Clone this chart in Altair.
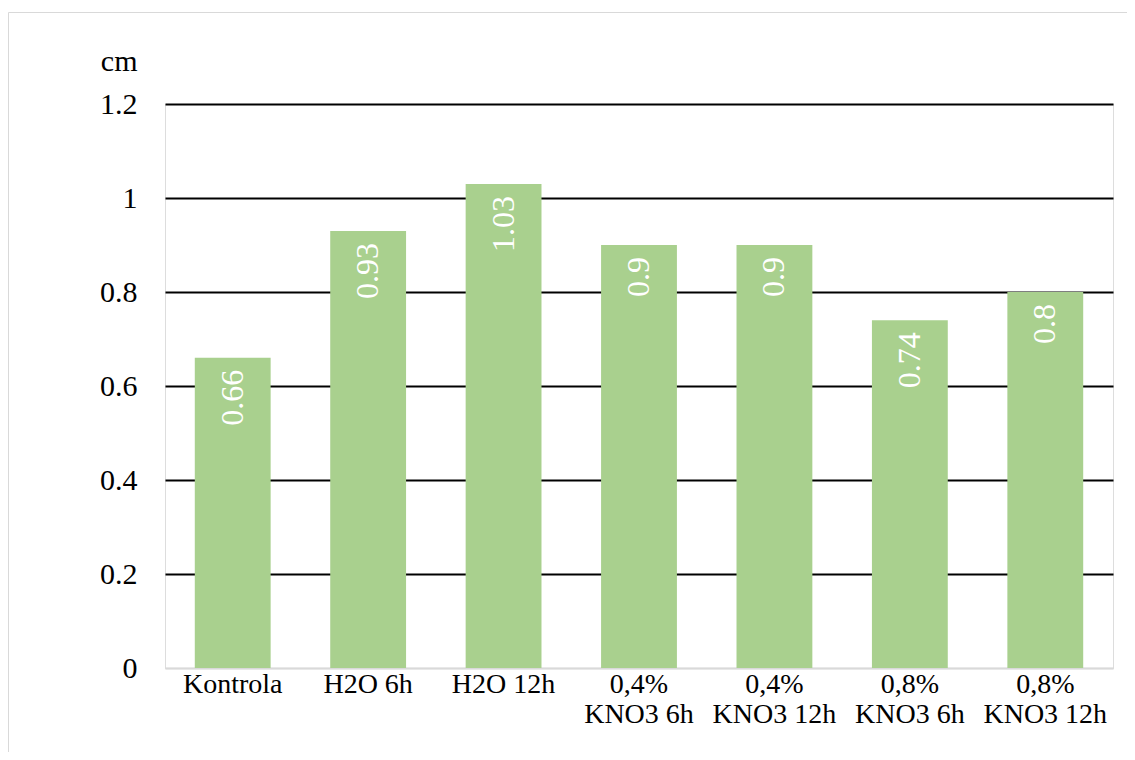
import altair as alt
import pandas as pd

categories = ["Kontrola", "H2O 6h", "H2O 12h", "0,4%\nKNO3 6h", "0,4%\nKNO3 12h",
              "0,8%\nKNO3 6h", "0,8%\nKNO3 12h"]
values = [0.66, 0.93, 1.03, 0.9, 0.9, 0.74, 0.8]
labels = ["0.66", "0.93", "1.03", "0.9", "0.9", "0.74", "0.8"]
y_ticks = [0, 0.2, 0.4, 0.6, 0.8, 1.0, 1.2]

df = pd.DataFrame({"cat": categories, "val": values, "lab": labels})

FONT = "Times New Roman, Liberation Serif, serif"

x_enc = alt.X("cat:N", sort=categories,
              scale=alt.Scale(paddingInner=0.44, paddingOuter=0.22),
              axis=alt.Axis(title=None, labelAngle=0, labelFontSize=28, labelFont=FONT,
                            labelColor="black", labelLineHeight=30, labelPadding=2,
                            ticks=False, domain=True, domainColor="#d9d9d9", domainWidth=1.5,
                            labelExpr="split(datum.label, '\\n')"))
y_enc = alt.Y("val:Q", scale=alt.Scale(domain=[0, 1.2], nice=False),
              axis=alt.Axis(title="cm", titleAngle=0, titleAlign="right", titleBaseline="alphabetic",
                            titleX=-28, titleY=-34, titleFont=FONT, titleFontSize=30,
                            titleFontWeight="normal", titleColor="black",
                            values=y_ticks, labelFontSize=30, labelFont=FONT, labelColor="black",
                            labelPadding=28, ticks=False, domain=False,
                            labelExpr="format(datum.value, '.1f') == '0.0' ? '0' : (format(datum.value, '.1f') == '1.0' ? '1' : format(datum.value, '.1f'))",
                            grid=True, gridWidth=2,
                            gridColor=alt.condition("datum.value === 0", alt.value("#d9d9d9"), alt.value("black"))))

bars = alt.Chart(df).mark_bar(color="#A9D08E").encode(x=x_enc, y=y_enc)

text = alt.Chart(df).mark_text(angle=270, align="right", baseline="middle", dx=-12,
                               color="white", font=FONT, fontSize=32).encode(
    x=alt.X("cat:N", sort=categories), y=alt.Y("val:Q"), text="lab:N")

frame = pd.DataFrame({"a": [0]})
top_edge = alt.Chart(frame).mark_rule(color="#d9d9d9", strokeWidth=1).encode(
    x=alt.value(-156.5), x2=alt.value(1000), y=alt.value(-91.5))
left_edge = alt.Chart(frame).mark_rule(color="#d9d9d9", strokeWidth=1).encode(
    x=alt.value(-156.5), y=alt.value(-91.5), y2=alt.value(720))

chart = alt.layer(top_edge, left_edge, bars, text).properties(
    width=948, height=564,
    autosize=alt.AutoSizeParams(type="none"),
    padding={"left": 157, "top": 96, "right": 14, "bottom": 84},
).configure_view(stroke=None).configure(background="white", font=FONT)

chart.save("out.html", embed_options={"renderer": "svg", "actions": False})
